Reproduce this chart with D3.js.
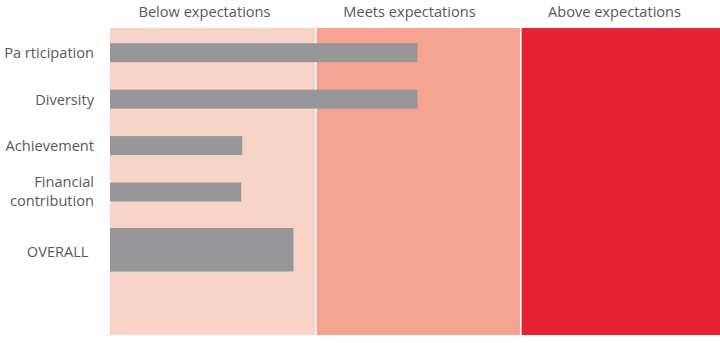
<!DOCTYPE html>
<html><head><meta charset="utf-8">
<script src="https://cdn.jsdelivr.net/npm/d3@7"></script>
<style>html,body{margin:0;padding:0;background:#fff;}svg{display:block;}</style>
</head><body>
<svg id="chart" width="720" height="343"></svg>
<script>
// Data
const bandLabels = ["Below expectations", "Meets expectations", "Above expectations"];
const bandColors = ["#f8d3c8", "#f4a391", "#e52334"];
const categories = ["Pa rticipation", "Diversity", "Achievement", "Financial contribution"];
const values = [1.5, 1.5, 0.645, 0.64];
const overallLabel = "OVERALL";
const overallValue = 0.895;

const svg = d3.select("#chart");
const font = "'Open Sans', sans-serif";
const fontSize = 14.6;
const textColor = "#58595b";

const x = d3.scaleLinear().domain([0, 3]).range([110, 725]);
const yTop = 28, yBottom = 335;
const y = d3.scalePoint().domain(categories).range([52.7, 192]);
const barH = 19;
const overallH = 43.5;
const overallTop = y(categories[categories.length - 1]) + 36;
const gap = 1.6;

// Bands
svg.selectAll("rect.band").data(bandLabels).join("rect")
  .attr("class", "band")
  .attr("x", (d, i) => x(i) + (i ? gap : 0))
  .attr("y", yTop)
  .attr("width", (d, i) => x(i + 1) - x(i) - (i ? gap : 0))
  .attr("height", yBottom - yTop)
  .attr("fill", (d, i) => bandColors[i]);

// Band headers
svg.selectAll("text.hdr").data(bandLabels).join("text")
  .attr("class", "hdr")
  .attr("x", (d, i) => (x(i) + x(i + 1)) / 2 - 8)
  .attr("y", 16.8)
  .attr("text-anchor", "middle")
  .attr("font-family", font)
  .attr("font-size", fontSize)
  .attr("fill", textColor)
  .text(d => d);

// Bars
svg.selectAll("rect.bar").data(categories).join("rect")
  .attr("class", "bar")
  .attr("x", x(0))
  .attr("y", d => y(d) - barH / 2)
  .attr("width", (d, i) => x(values[i]) - x(0))
  .attr("height", barH)
  .attr("fill", "#97979a");

svg.append("rect")
  .attr("x", x(0))
  .attr("y", overallTop)
  .attr("width", x(overallValue) - x(0))
  .attr("height", overallH)
  .attr("fill", "#97979a");

// Category labels
const lbl = svg.selectAll("text.lbl").data(categories).join("text")
  .attr("class", "lbl")
  .attr("text-anchor", "end")
  .attr("font-family", font)
  .attr("font-size", fontSize)
  .attr("fill", textColor);
lbl.each(function(d) {
  const words = d === "Financial contribution" ? ["Financial", "contribution"] : [d];
  const t = d3.select(this);
  const lh = 19.3;
  words.forEach((w, k) => {
    t.append("tspan")
      .attr("x", 94)
      .attr("y", y(d) + (words.length > 1 ? 4.3 : 5.5) + (k - (words.length - 1) / 2) * lh)
      .text(w);
  });
});

svg.append("text")
  .attr("x", 88.5)
  .attr("y", overallTop + overallH / 2 + 7.3)
  .attr("text-anchor", "end")
  .attr("font-family", font)
  .attr("font-size", fontSize)
  .attr("fill", textColor)
  .text(overallLabel);
</script>
</body></html>
